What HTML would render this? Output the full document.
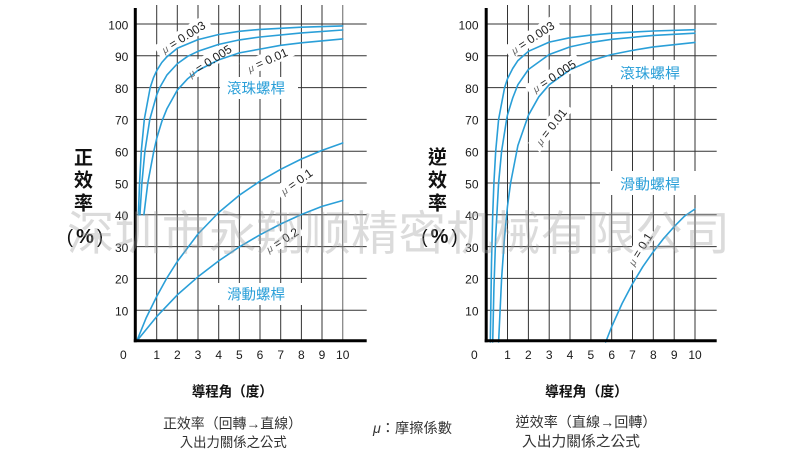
<!DOCTYPE html>
<html>
<head>
<meta charset="utf-8">
<style>
html,body{margin:0;padding:0;background:#fff;}
body{width:800px;height:451px;overflow:hidden;}
svg{display:block;}
.lat{font-family:"Liberation Sans",Arial,sans-serif;}
.cjk{font-family:"Liberation Sans","Noto Sans CJK TC","Noto Sans CJK SC",sans-serif;}
</style>
</head>
<body>
<svg width="800" height="451" viewBox="0 0 800 451" xmlns="http://www.w3.org/2000/svg">
<rect width="800" height="451" fill="#fff"/>

<!-- ===== LEFT GRID ===== -->
<g stroke="#333" stroke-width="1" fill="none">
  <line x1="156.7" y1="5" x2="156.7" y2="342"/>
  <line x1="177.3" y1="5" x2="177.3" y2="342"/>
  <line x1="198" y1="5" x2="198" y2="342"/>
  <line x1="218.7" y1="5" x2="218.7" y2="342"/>
  <line x1="239.35" y1="5" x2="239.35" y2="342"/>
  <line x1="260" y1="5" x2="260" y2="342"/>
  <line x1="280.7" y1="5" x2="280.7" y2="342"/>
  <line x1="301.4" y1="5" x2="301.4" y2="342"/>
  <line x1="322" y1="5" x2="322" y2="342"/>
  <line x1="342.7" y1="5" x2="342.7" y2="342" stroke="#888" stroke-width="1.3"/>
  <line x1="136" y1="24" x2="366.7" y2="24"/>
  <line x1="136" y1="55.8" x2="366.7" y2="55.8"/>
  <line x1="136" y1="87.6" x2="366.7" y2="87.6"/>
  <line x1="136" y1="119.4" x2="366.7" y2="119.4"/>
  <line x1="136" y1="151.2" x2="366.7" y2="151.2"/>
  <line x1="136" y1="183" x2="366.7" y2="183"/>
  <line x1="136" y1="214.8" x2="366.7" y2="214.8"/>
  <line x1="136" y1="246.6" x2="366.7" y2="246.6"/>
  <line x1="136" y1="278.4" x2="366.7" y2="278.4"/>
  <line x1="136" y1="310.2" x2="366.7" y2="310.2"/>
</g>

<!-- ===== RIGHT GRID ===== -->
<g stroke="#333" stroke-width="1" fill="none">
  <line x1="507.5" y1="5" x2="507.5" y2="342"/>
  <line x1="528.4" y1="5" x2="528.4" y2="342"/>
  <line x1="549.2" y1="5" x2="549.2" y2="342"/>
  <line x1="570" y1="5" x2="570" y2="342"/>
  <line x1="590.9" y1="5" x2="590.9" y2="342"/>
  <line x1="611.7" y1="5" x2="611.7" y2="342"/>
  <line x1="632.5" y1="5" x2="632.5" y2="342"/>
  <line x1="653.3" y1="5" x2="653.3" y2="342"/>
  <line x1="674.2" y1="5" x2="674.2" y2="342"/>
  <line x1="695" y1="5" x2="695" y2="342"/>
  <line x1="486.7" y1="24" x2="716.7" y2="24"/>
  <line x1="486.7" y1="55.8" x2="716.7" y2="55.8"/>
  <line x1="486.7" y1="87.6" x2="716.7" y2="87.6"/>
  <line x1="486.7" y1="119.4" x2="716.7" y2="119.4"/>
  <line x1="486.7" y1="151.2" x2="716.7" y2="151.2"/>
  <line x1="486.7" y1="183" x2="716.7" y2="183"/>
  <line x1="486.7" y1="214.8" x2="716.7" y2="214.8"/>
  <line x1="486.7" y1="246.6" x2="716.7" y2="246.6"/>
  <line x1="486.7" y1="278.4" x2="716.7" y2="278.4"/>
  <line x1="486.7" y1="310.2" x2="716.7" y2="310.2"/>
</g>

<!-- ===== WHITE LABEL BACKGROUNDS ===== -->
<g fill="#fff">
  <!-- left -->
  <rect x="-30" y="-8" width="60" height="15" transform="translate(183.3,37) rotate(-32)"/>
  <rect x="-30" y="-8" width="60" height="15" transform="translate(209.7,61) rotate(-33)"/>
  <rect x="-27" y="-8" width="54" height="15" transform="translate(267.5,60) rotate(-24)"/>
  <rect x="220" y="77" width="78" height="22"/>
  <rect x="-22" y="-8" width="44" height="15" transform="translate(296.5,181.5) rotate(-35)"/>
  <rect x="-22" y="-8" width="44" height="15" transform="translate(282,240) rotate(-32)"/>
  <rect x="218" y="283" width="84" height="22"/>
  <!-- right -->
  <rect x="-30" y="-8" width="60" height="15" transform="translate(532.5,37.5) rotate(-33)"/>
  <rect x="-30" y="-8" width="60" height="15" transform="translate(554,76) rotate(-33)"/>
  <rect x="-27" y="-8" width="54" height="15" transform="translate(551,126.7) rotate(-52)"/>
  <rect x="602" y="60" width="90" height="25"/>
  <rect x="600" y="171" width="117" height="24"/>
  <rect x="-22" y="-8" width="44" height="15" transform="translate(640,249) rotate(-58)"/>
</g>

<!-- ===== CURVES ===== -->
<g fill="none" stroke="#2a9fd8" stroke-width="1.6" stroke-linejoin="round" stroke-linecap="round">
  <!-- left ball screw -->
  <path d="M138.4,214.8 L139.55,183 L141.3,151.2 L144.3,119.4 L150.2,87.6 L153.6,77.4 L156.7,70.7 L161.8,62.5 L167,56.7 L177.3,48.2 L198,39.6 L218.7,34.5 L239.35,31.3 L260,29.4 L301.4,27.2 L342.7,25.9"/>
  <path d="M139.9,214.8 L141.9,183 L144.9,151.2 L149.8,119.4 L156.7,94.9 L159.7,87.6 L167,74.9 L177.3,63.75 L187.7,56.3 L198,51.3 L218.7,44.4 L239.35,39.9 L260,37 L301.4,32.9 L342.7,30"/>
  <path d="M143.9,214.8 L147.8,183 L153.8,151.2 L156.7,138.5 L161.8,121.6 L167,108.6 L177.3,90.1 L187.7,78.7 L198,70.4 L218.7,59.9 L239.35,52.9 L260,49.1 L280.7,45.3 L301.4,42.8 L342.7,38.9"/>
  <!-- left sliding screw -->
  <path d="M136.8,341 L146.3,317.6 L156.7,296.5 L167,277.8 L177.3,261.5 L198,234 L218.7,212.5 L239.35,195.2 L260,181.2 L280.7,169.3 L301.4,159 L322,150.4 L342.7,143"/>
  <path d="M136.8,341 L156.7,316.6 L177.3,294.9 L198,276.8 L218.7,260.9 L239.35,246.9 L260,234.8 L280.7,224 L301.4,214.5 L322,206.4 L342.7,200.5"/>
  <!-- right ball screw -->
  <path d="M490.3,342 L491.5,262.5 L492.7,214.8 L493.9,183 L495.7,151.2 L498.6,119.4 L504.6,87.6 L507.5,78.7 L512.7,68.5 L517.9,60.6 L528.4,51.3 L549.2,42.1 L570,37.7 L590.9,35.1 L611.7,33.2 L653.3,31 L695,29.7"/>
  <path d="M492.7,342 L493.9,288.9 L495.7,236.1 L498.6,183 L501.6,151.2 L506.6,119.4 L507.5,114.9 L512.7,98 L517.9,84.7 L528.4,69.5 L549.2,54.5 L570,46.9 L590.9,42.4 L611.7,39.3 L653.3,35.4 L695,33.2"/>
  <path d="M498.6,342 L501.6,278.4 L504.6,236.1 L507.5,206.2 L510.6,183 L517.9,145.5 L528.4,115.3 L538.8,96.8 L549.2,84.7 L570,69.8 L590.9,60.6 L611.7,54.5 L632.5,50.4 L653.3,46.9 L695,42.4"/>
  <!-- right sliding screw -->
  <path d="M605.7,342 L611.7,326.7 L622.1,303.5 L632.5,283.8 L642.9,266.6 L653.3,251.7 L663.8,238.3 L674.2,226.6 L684.6,216.1 L695,209"/>
</g>

<!-- ===== AXES ===== -->
<g stroke="#000" stroke-width="3" fill="none">
  <line x1="135.3" y1="8" x2="135.3" y2="342.3"/>
  <line x1="133.8" y1="340.8" x2="366.7" y2="340.8"/>
  <line x1="486.2" y1="8" x2="486.2" y2="342.3"/>
  <line x1="484.7" y1="340.8" x2="716.7" y2="340.8"/>
</g>

<!-- ===== TICK LABELS ===== -->
<g class="lat" font-size="12" fill="#1a1a1a" text-anchor="end">
  <text x="128.3" y="29.3">100</text>
  <text x="128.3" y="61.1">90</text>
  <text x="128.3" y="92.9">80</text>
  <text x="128.3" y="124.7">70</text>
  <text x="128.3" y="156.5">60</text>
  <text x="128.3" y="188.3">50</text>
  <text x="128.3" y="220.1">40</text>
  <text x="128.3" y="251.9">30</text>
  <text x="128.3" y="283.7">20</text>
  <text x="128.3" y="315.5">10</text>
  <text x="478.5" y="29.3">100</text>
  <text x="478.5" y="61.1">90</text>
  <text x="478.5" y="92.9">80</text>
  <text x="478.5" y="124.7">70</text>
  <text x="478.5" y="156.5">60</text>
  <text x="478.5" y="188.3">50</text>
  <text x="478.5" y="220.1">40</text>
  <text x="478.5" y="251.9">30</text>
  <text x="478.5" y="283.7">20</text>
  <text x="478.5" y="315.5">10</text>
</g>
<g class="lat" font-size="12" fill="#1a1a1a" text-anchor="middle">
  <text x="123.3" y="359">0</text>
  <text x="156.7" y="359">1</text>
  <text x="177.3" y="359">2</text>
  <text x="198" y="359">3</text>
  <text x="218.7" y="359">4</text>
  <text x="239.35" y="359">5</text>
  <text x="260" y="359">6</text>
  <text x="280.7" y="359">7</text>
  <text x="301.4" y="359">8</text>
  <text x="322" y="359">9</text>
  <text x="342.7" y="359">10</text>
  <text x="474.3" y="359">0</text>
  <text x="507.5" y="359">1</text>
  <text x="528.4" y="359">2</text>
  <text x="549.2" y="359">3</text>
  <text x="570" y="359">4</text>
  <text x="590.9" y="359">5</text>
  <text x="611.7" y="359">6</text>
  <text x="632.5" y="359">7</text>
  <text x="653.3" y="359">8</text>
  <text x="674.2" y="359">9</text>
  <text x="695" y="359">10</text>
</g>

<!-- ===== MU LABELS ===== -->
<g class="lat" font-size="12" fill="#222" text-anchor="middle">
  <text transform="translate(183.3,37) rotate(-32)" y="4.3"><tspan font-style="italic" fill="#666" font-size="10">μ</tspan> = 0.003</text>
  <text transform="translate(209.7,61) rotate(-33)" y="4.3"><tspan font-style="italic" fill="#666" font-size="10">μ</tspan> = 0.005</text>
  <text transform="translate(267.5,60) rotate(-24)" y="4.3"><tspan font-style="italic" fill="#666" font-size="10">μ</tspan> = 0.01</text>
  <text transform="translate(296.5,181.5) rotate(-35)" y="4.3"><tspan font-style="italic" fill="#666" font-size="10">μ</tspan> = 0.1</text>
  <text transform="translate(282,240) rotate(-32)" y="4.3"><tspan font-style="italic" fill="#666" font-size="10">μ</tspan> = 0.2</text>
  <text transform="translate(532.5,37.5) rotate(-33)" y="4.3"><tspan font-style="italic" fill="#666" font-size="10">μ</tspan> = 0.003</text>
  <text transform="translate(554,76) rotate(-33)" y="4.3"><tspan font-style="italic" fill="#666" font-size="10">μ</tspan> = 0.005</text>
  <text transform="translate(551,126.7) rotate(-52)" y="4.3"><tspan font-style="italic" fill="#666" font-size="10">μ</tspan> = 0.01</text>
  <text transform="translate(640,249) rotate(-58)" y="4.3"><tspan font-style="italic" fill="#666" font-size="10">μ</tspan> = 0.1</text>
</g>

<!-- ===== CJK SERIES LABELS ===== -->
<g class="cjk" font-size="14.5" fill="#2a9fd8" text-anchor="middle">
  <text x="256" y="93.5" textLength="58" lengthAdjust="spacingAndGlyphs">滾珠螺桿</text>
  <text x="256" y="299.5" textLength="58" lengthAdjust="spacingAndGlyphs">滑動螺桿</text>
  <text x="650" y="78.5" textLength="60" lengthAdjust="spacingAndGlyphs">滾珠螺桿</text>
  <text x="650" y="189.5" textLength="60" lengthAdjust="spacingAndGlyphs">滑動螺桿</text>
</g>

<!-- ===== Y TITLES ===== -->
<g class="cjk" font-size="19" font-weight="bold" fill="#111" text-anchor="middle">
  <text x="83.5" y="164">正</text>
  <text x="83.5" y="186.5">效</text>
  <text x="83.5" y="209.5">率</text>
  <text x="437.5" y="163.5">逆</text>
  <text x="437.5" y="186.5">效</text>
  <text x="437.5" y="209.5">率</text>
</g>
<g class="lat" font-size="19" fill="#111" text-anchor="middle">
  <text x="85" y="243"><tspan font-weight="normal">(</tspan><tspan dx="3" font-weight="bold" font-size="20">%</tspan><tspan dx="3" font-weight="normal">)</tspan></text>
  <text x="439.5" y="243"><tspan font-weight="normal">(</tspan><tspan dx="3" font-weight="bold" font-size="20">%</tspan><tspan dx="3" font-weight="normal">)</tspan></text>
</g>

<!-- ===== BOTTOM TEXT ===== -->
<g class="cjk" fill="#111" text-anchor="middle">
  <text x="232.3" y="396.5" font-size="14" font-weight="bold" textLength="81" lengthAdjust="spacingAndGlyphs">導程角（度）</text>
  <text x="586.5" y="396.5" font-size="14" font-weight="bold" textLength="83" lengthAdjust="spacingAndGlyphs">導程角（度）</text>
</g>
<g class="cjk" fill="#333" text-anchor="middle">
  <text x="232.5" y="428.3" font-size="14" textLength="139" lengthAdjust="spacingAndGlyphs">正效率（回轉→直線）</text>
  <text x="233.3" y="446.8" font-size="13.5" textLength="107" lengthAdjust="spacingAndGlyphs">入出力關係之公式</text>
  <text x="412.5" y="433" font-size="14" textLength="79" lengthAdjust="spacingAndGlyphs"><tspan font-style="italic">μ</tspan>：摩擦係數</text>
  <text x="586" y="427" font-size="14" textLength="141" lengthAdjust="spacingAndGlyphs">逆效率（直線→回轉）</text>
  <text x="581" y="446.5" font-size="14.5" textLength="118" lengthAdjust="spacingAndGlyphs">入出力關係之公式</text>
</g>

<!-- ===== WATERMARK ===== -->
<text x="67" y="250" font-family="'Liberation Sans','Noto Sans CJK SC',sans-serif" font-size="47" fill="rgba(160,160,160,0.38)" textLength="663" lengthAdjust="spacingAndGlyphs">深圳市永翔顺精密机械有限公司</text>
</svg>
</body>
</html>
